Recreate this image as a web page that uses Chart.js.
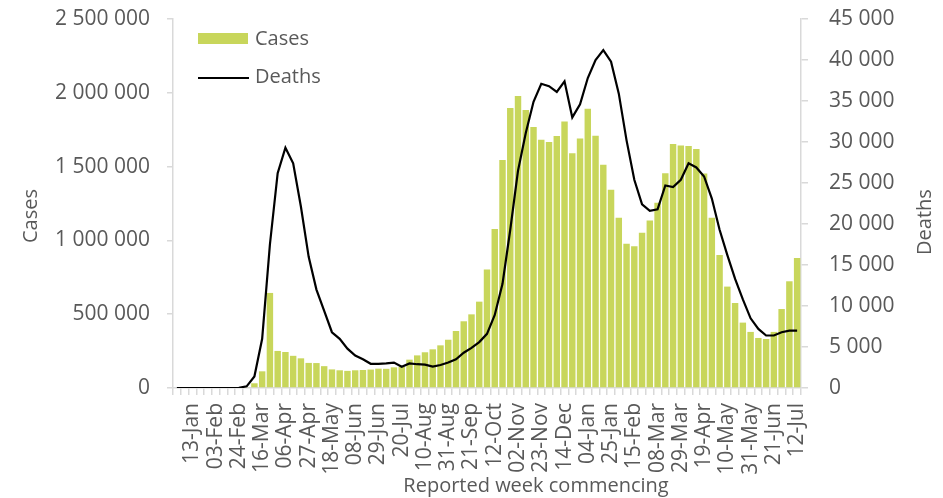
<!DOCTYPE html>
<html>
<head>
<meta charset="utf-8">
<title>Cases and deaths by reported week</title>
<script src="https://cdn.jsdelivr.net/npm/chart.js@4.4.1/dist/chart.umd.min.js"></script>
<style>
  html, body { margin: 0; padding: 0; background: #ffffff; }
  canvas { display: block; }
</style>
</head>
<body>
<canvas id="chart" width="943" height="498"></canvas>
<script>
// week commencing (30-Dec-2019 .. 12-Jul-2021)
const weeks = [
  '30-Dec', '06-Jan', '13-Jan', '20-Jan', '27-Jan', '03-Feb', '10-Feb', '17-Feb', '24-Feb',
  '02-Mar', '09-Mar', '16-Mar', '23-Mar', '30-Mar', '06-Apr', '13-Apr', '20-Apr', '27-Apr',
  '04-May', '11-May', '18-May', '25-May', '01-Jun', '08-Jun', '15-Jun', '22-Jun', '29-Jun',
  '06-Jul', '13-Jul', '20-Jul', '27-Jul', '03-Aug', '10-Aug', '17-Aug', '24-Aug', '31-Aug',
  '07-Sep', '14-Sep', '21-Sep', '28-Sep', '05-Oct', '12-Oct', '19-Oct', '26-Oct', '02-Nov',
  '09-Nov', '16-Nov', '23-Nov', '30-Nov', '07-Dec', '14-Dec', '21-Dec', '28-Dec',
  '04-Jan', '11-Jan', '18-Jan', '25-Jan', '01-Feb', '08-Feb', '15-Feb', '22-Feb', '01-Mar',
  '08-Mar', '15-Mar', '22-Mar', '29-Mar', '05-Apr', '12-Apr', '19-Apr', '26-Apr', '03-May',
  '10-May', '17-May', '24-May', '31-May', '07-Jun', '14-Jun', '21-Jun', '28-Jun', '05-Jul',
  '12-Jul'
];

const cases = [
  0, 0, 0, 0, 0, 0, 0, 0, 1500, 6000,
  32000, 113000, 644000, 251000, 244000, 218000, 201000, 170000, 169000, 148000,
  126000, 120000, 116000, 120000, 122000, 125000, 131000, 130000, 140000, 143000,
  192000, 221000, 242000, 262000, 289000, 327000, 386000, 452000, 499000, 585000,
  803000, 1077000, 1545000, 1897000, 1978000, 1883000, 1768000, 1682000, 1666000, 1707000,
  1806000, 1590000, 1691000, 1892000, 1709000, 1513000, 1343000, 1154000, 978000, 960000,
  1052000, 1134000, 1255000, 1455000, 1653000, 1643000, 1640000, 1620000, 1453000, 1154000,
  901000, 687000, 576000, 443000, 380000, 339000, 332000, 380000, 535000, 723000,
  880000
];

const deaths = [
  0, 0, 0, 0, 0, 0, 0, 0, 30, 200,
  1400, 6000, 17500, 26200, 29300, 27400, 22100, 16000, 12000, 9400,
  6800, 6000, 4800, 3950, 3500, 2950, 2950, 3000, 3100, 2600,
  3000, 2900, 2850, 2600, 2800, 3100, 3500, 4300, 4900, 5600,
  6600, 8900, 12700, 19300, 26500, 31100, 34900, 37100, 36800, 36100,
  37400, 33000, 34600, 37800, 40000, 41200, 39800, 35900, 30200, 25400,
  22400, 21600, 21800, 24700, 24500, 25400, 27400, 26900, 25800, 23100,
  19300, 16200, 13300, 10800, 8500, 7200, 6400, 6400, 6800, 7000,
  7000
];

const casesTicks = [0, 500000, 1000000, 1500000, 2000000, 2500000];
const deathsTicks = [0, 5000, 10000, 15000, 20000, 25000, 30000, 35000, 40000, 45000];

const textColor = '#595959';
const axisColor = '#d9d9d9';
const barColor = '#c8d65b';
const fontFamily = '"Open Sans", "Liberation Sans", sans-serif';

const fmt = v => String(v).replace(/\B(?=(\d{3})+(?!\d))/g, ' ');

Chart.defaults.font.family = fontFamily;
Chart.defaults.font.size = 21;
Chart.defaults.color = textColor;

// legend inside the plot + axis titles, drawn where Excel put them
const overlay = {
  id: 'overlay',
  afterDraw(chart) {
    const ctx = chart.ctx;
    const ds = chart.data.datasets;
    ctx.save();
    ctx.font = '20px ' + fontFamily;
    ctx.textBaseline = 'middle';
    ctx.textAlign = 'left';

    // legend: Cases
    ctx.fillStyle = ds[1].backgroundColor;
    ctx.fillRect(198, 33, 50, 11);
    ctx.fillStyle = textColor;
    ctx.fillText(ds[1].label, 255, 39);

    // legend: Deaths
    ctx.strokeStyle = ds[0].borderColor;
    ctx.lineWidth = ds[0].borderWidth;
    ctx.beginPath();
    ctx.moveTo(198, 78);
    ctx.lineTo(249, 78);
    ctx.stroke();
    ctx.fillText(ds[0].label, 255, 77);

    // axis titles
    ctx.textAlign = 'center';
    ctx.fillText('Reported week commencing', 536, 486);

    ctx.save();
    ctx.translate(31, 216);
    ctx.rotate(-Math.PI / 2);
    ctx.fillText('Cases', 0, 0);
    ctx.restore();

    ctx.save();
    ctx.translate(925, 222);
    ctx.rotate(-Math.PI / 2);
    ctx.fillText('Deaths', 0, 0);
    ctx.restore();

    ctx.restore();
  }
};

// the tick padding would otherwise be added above/below the y axes
const fitY = width => s => {
  s.width = width;
  s.paddingTop = 0;
  s.paddingBottom = 0;
};

new Chart(document.getElementById('chart'), {
  data: {
    labels: weeks,
    datasets: [
      {
        type: 'line',
        label: 'Deaths',
        data: deaths,
        yAxisID: 'yDeaths',
        borderColor: '#000000',
        borderWidth: 2.2,
        pointRadius: 0,
        tension: 0,
        order: 0
      },
      {
        type: 'bar',
        label: 'Cases',
        data: cases,
        yAxisID: 'yCases',
        backgroundColor: barColor,
        categoryPercentage: 1,
        barPercentage: 0.83,
        order: 1
      }
    ]
  },
  options: {
    responsive: false,
    animation: false,
    layout: { padding: { top: 19, left: 0, right: 0, bottom: 0 } },
    plugins: {
      legend: { display: false },
      tooltip: { enabled: false }
    },
    scales: {
      x: {
        offset: true,
        grid: { drawOnChartArea: false, drawTicks: true, tickLength: 7, color: axisColor, lineWidth: 1.5, offset: true },
        border: { display: true, color: axisColor, width: 1.5 },
        ticks: {
          autoSkip: false,
          minRotation: 90,
          maxRotation: 90,
          padding: 8,
          callback: (v, i) => (i % 3 === 2 ? weeks[i] : '')
        },
        afterFit: s => { s.height = 110; }
      },
      yCases: {
        position: 'left',
        min: 0,
        max: 2500000,
        grid: { drawOnChartArea: false, drawTicks: true, tickLength: 6, color: axisColor, lineWidth: 1.5 },
        border: { display: true, color: axisColor, width: 1.5 },
        ticks: { padding: 17, callback: v => fmt(v) },
        afterBuildTicks: s => { s.ticks = casesTicks.map(v => ({ value: v })); },
        afterFit: fitY(173)
      },
      yDeaths: {
        position: 'right',
        min: 0,
        max: 45000,
        grid: { drawOnChartArea: false, drawTicks: true, tickLength: 7, color: axisColor, lineWidth: 1.5 },
        border: { display: true, color: axisColor, width: 1.5 },
        ticks: { padding: 21, callback: v => fmt(v) },
        afterBuildTicks: s => { s.ticks = deathsTicks.map(v => ({ value: v })); },
        afterFit: fitY(142)
      }
    }
  },
  plugins: [overlay]
});
</script>
</body>
</html>
